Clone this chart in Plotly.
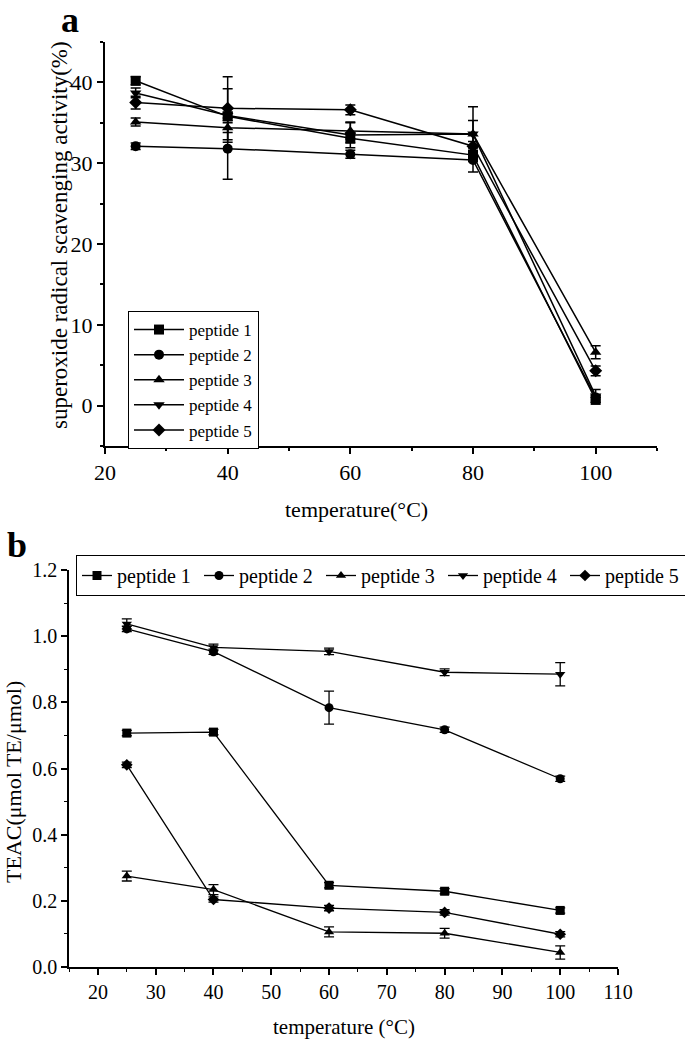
import plotly.graph_objects as go

# ---------------- data ----------------
temps = [25, 40, 60, 80, 100]
names = ["peptide 1", "peptide 2", "peptide 3", "peptide 4", "peptide 5"]
symbols = ["square", "circle", "triangle-up", "triangle-down", "diamond"]

# panel a: superoxide radical scavenging activity (%)
a_p1 = [40.2, 35.8, 33.1, 31.0, 0.7]
a_p2 = [32.1, 31.8, 31.1, 30.4, 1.0]
a_p3 = [35.1, 34.4, 34.0, 33.6, 6.6]
a_p4 = [38.7, 35.9, 33.5, 33.6, 1.2]
a_p5 = [37.5, 36.8, 36.6, 32.1, 4.3]
a_e1 = [0.5, 0.5, 0.6, 0.6, 0.3]
a_e2 = [0.4, 3.8, 0.5, 1.5, 0.3]
a_e3 = [0.5, 0.6, 1.0, 1.7, 0.8]
a_e4 = [0.6, 3.3, 1.6, 3.4, 0.8]
a_e5 = [0.8, 3.9, 0.6, 0.6, 0.6]

# panel b: TEAC (umol TE/umol)
b_p1 = [0.707, 0.710, 0.247, 0.229, 0.171]
b_p2 = [1.022, 0.953, 0.784, 0.717, 0.569]
b_p3 = [0.275, 0.234, 0.106, 0.102, 0.044]
b_p4 = [1.037, 0.966, 0.954, 0.891, 0.885]
b_p5 = [0.611, 0.204, 0.178, 0.165, 0.099]
b_e1 = [0.008, 0.008, 0.008, 0.008, 0.008]
b_e2 = [0.008, 0.008, 0.050, 0.008, 0.008]
b_e3 = [0.015, 0.015, 0.015, 0.015, 0.020]
b_e4 = [0.015, 0.010, 0.010, 0.010, 0.035]
b_e5 = [0.008, 0.008, 0.008, 0.008, 0.008]

a_series = [a_p1, a_p2, a_p3, a_p4, a_p5]
a_errs = [a_e1, a_e2, a_e3, a_e4, a_e5]
b_series = [b_p1, b_p2, b_p3, b_p4, b_p5]
b_errs = [b_e1, b_e2, b_e3, b_e4, b_e5]

FONT = "Liberation Serif"
W, H = 685, 1041

fig = go.Figure()

for nm, sym, ys, es in zip(names, symbols, a_series, a_errs):
    fig.add_trace(go.Scatter(
        x=temps, y=ys, name=nm, mode="lines+markers",
        line=dict(color="black", width=1.5),
        marker=dict(symbol=sym, size=10, color="black"),
        error_y=dict(type="data", array=es, color="black", thickness=1.5, width=5),
        xaxis="x", yaxis="y", legend="legend",
    ))

for nm, sym, ys, es in zip(names, symbols, b_series, b_errs):
    fig.add_trace(go.Scatter(
        x=temps, y=ys, name=nm, mode="lines+markers",
        line=dict(color="black", width=1.3),
        marker=dict(symbol=sym, size=9, color="black"),
        error_y=dict(type="data", array=es, color="black", thickness=1.3, width=5),
        xaxis="x2", yaxis="y2", legend="legend2",
    ))

def px_x(p):
    return p / W

def px_y(p):
    return 1 - p / H

def axis_style(lw, tick_size):
    return dict(
        showline=True, linecolor="black", linewidth=lw, mirror=False,
        showgrid=False, zeroline=False, ticks="outside", ticklen=6,
        tickwidth=1.5, tickcolor="black",
        tickfont=dict(family=FONT, size=tick_size, color="black"),
    )

def label(text, x, y, size, angle=0, bold=False):
    t = f"<b>{text}</b>" if bold else text
    return dict(text=t, x=px_x(x), y=px_y(y), xref="paper", yref="paper",
                xanchor="center", yanchor="middle", textangle=angle,
                showarrow=False, font=dict(family=FONT, size=size, color="black"))

fig.update_layout(
    template="none",
    width=W, height=H,
    margin=dict(l=0, r=0, t=0, b=0, autoexpand=False),
    paper_bgcolor="white", plot_bgcolor="white",
    font=dict(family=FONT, color="black", size=20),
    xaxis=dict(
        **axis_style(2, 22), domain=[px_x(105), px_x(657)], anchor="y",
        range=[20, 110], tick0=20, dtick=20,
        minor=dict(ticks="outside", ticklen=3, dtick=10, tick0=20, tickcolor="black", tickwidth=1.5),
    ),
    yaxis=dict(
        **axis_style(2, 22), domain=[px_y(446), px_y(42)], anchor="x",
        range=[-5, 45], tick0=0, dtick=10,
        minor=dict(ticks="outside", ticklen=3, dtick=5, tick0=-5, tickcolor="black", tickwidth=1.5),
    ),
    xaxis2=dict(
        **axis_style(1.5, 20), domain=[px_x(69), px_x(618)], anchor="y2",
        range=[15, 110], tick0=0, dtick=10,
        minor=dict(ticks="outside", ticklen=3, dtick=5, tick0=15, tickcolor="black", tickwidth=1.3),
    ),
    yaxis2=dict(
        **axis_style(1.5, 20), domain=[px_y(967), px_y(570)], anchor="x2",
        range=[0, 1.2], tick0=0, dtick=0.2, tickformat=".1f",
        minor=dict(ticks="outside", ticklen=3, dtick=0.1, tick0=0, tickcolor="black", tickwidth=1.3),
    ),
    legend=dict(
        x=px_x(128), y=px_y(311), xanchor="left", yanchor="top",
        bordercolor="black", borderwidth=1, bgcolor="white",
        font=dict(family=FONT, size=17, color="black"),
        tracegroupgap=0, itemwidth=50,
    ),
    legend2=dict(
        orientation="h",
        x=px_x(76), y=px_y(555), xanchor="left", yanchor="top",
        bordercolor="black", borderwidth=1, bgcolor="white",
        font=dict(family=FONT, size=20, color="black"),
        itemwidth=30, entrywidth=77, entrywidthmode="pixels",
    ),
    annotations=[
        label("a", 70, 20, 36, bold=True),
        label("b", 17, 545, 36, bold=True),
        label("temperature(°C)", 356, 510, 22),
        label("superoxide radical scavenging activity(%)", 59, 235, 23, angle=-90),
        label("temperature (°C)", 344, 1027, 21),
        label("TEAC(μmol TE/μmol)", 13, 782, 22, angle=-90),
    ],
)

fig.write_html(
    "out.html",
    config={"displayModeBar": False},
    post_script="document.body.style.margin='0';document.body.style.overflow='hidden';",
)
